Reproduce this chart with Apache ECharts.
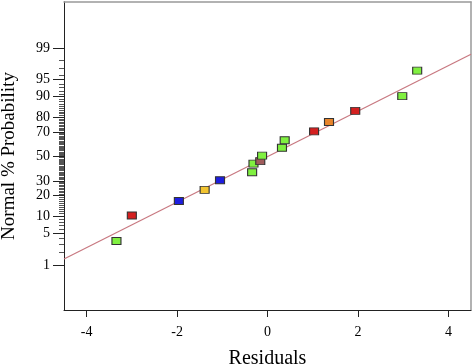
<!DOCTYPE html>
<html><head><meta charset="utf-8">
<script src="https://cdn.jsdelivr.net/npm/echarts@6/dist/echarts.min.js"></script>
<style>html,body{margin:0;padding:0;background:#fff}#c{width:474px;height:364px}</style>
</head><body><div id="c"></div>
<script>
// ---- data ----
const residuals     = [-3.34, -3.00, -1.96, -1.39, -1.05, -0.34, -0.31, -0.16, -0.12, 0.32, 0.38, 1.03, 1.36, 1.94, 2.98, 3.31];
const probabilities = [3.5, 10.3, 17.0, 23.7, 30.5, 36.8, 43.9, 46.0, 50.7, 57.4, 63.6, 70.5, 77.0, 83.6, 90.2, 96.7];
const pointGroups   = ['green','red','blue','yellow','blue','green','green','brown','green','green','green','red','orange','red','green','green'];
const fitLineX = [-4.5, 4.5];
const fitLineP = [1.4, 98.57];
const xTickLabels = [-4, -2, 0, 2, 4];
const yTickLabels = [1, 5, 10, 20, 30, 50, 70, 80, 90, 95, 99];
const yMinorTickPercents = [];
for (let p = 2; p <= 98; p++) if (yTickLabels.indexOf(p) < 0) yMinorTickPercents.push(p);

// ---- styles ----
const palette = {green:'#80f040', red:'#d42020', blue:'#1e1ee0', yellow:'#f2c430', orange:'#e8842a', brown:'#a05c5c'};
const serif = 'Liberation Serif, Times New Roman, serif';

// inverse normal CDF (Acklam)
function probit(p){
  const a=[-3.969683028665376e+01,2.209460984245205e+02,-2.759285104469687e+02,1.383577518672690e+02,-3.066479806614716e+01,2.506628277459239e+00];
  const b=[-5.447609879822406e+01,1.615858368580409e+02,-1.556989798598866e+02,6.680131188771972e+01,-1.328068155288572e+01];
  const c=[-7.784894002430293e-03,-3.223964580411365e-01,-2.400758277161838e+00,-2.549732539343734e+00,4.374664141464968e+00,2.938163982698783e+00];
  const d=[7.784695709041462e-03,3.224671290700398e-01,2.445134137142996e+00,3.754408661907416e+00];
  const pl=0.02425, ph=1-pl; let q,r;
  if(p<pl){q=Math.sqrt(-2*Math.log(p));return (((((c[0]*q+c[1])*q+c[2])*q+c[3])*q+c[4])*q+c[5])/((((d[0]*q+d[1])*q+d[2])*q+d[3])*q+1);}
  if(p<=ph){q=p-0.5;r=q*q;return (((((a[0]*r+a[1])*r+a[2])*r+a[3])*r+a[4])*r+a[5])*q/(((((b[0]*r+b[1])*r+b[2])*r+b[3])*r+b[4])*r+1);}
  q=Math.sqrt(-2*Math.log(1-p));return -(((((c[0]*q+c[1])*q+c[2])*q+c[3])*q+c[4])*q+c[5])/((((d[0]*q+d[1])*q+d[2])*q+d[3])*q+1);
}
const zOf = pct => probit(pct/100);
const majorZ = yTickLabels.map(zOf);
const minorZ = yMinorTickPercents.map(zOf);
function labelFor(v){
  let best = yTickLabels[0], bd = 1e9;
  yTickLabels.forEach((p,i)=>{const dd=Math.abs(majorZ[i]-v); if(dd<bd){bd=dd;best=p;}});
  return String(best);
}

const yMin = -3.29, yMax = 3.31;
const chart = echarts.init(document.getElementById('c'), null, {renderer:'canvas'});
chart.setOption({
  animation:false,
  backgroundColor:'#fff',
  grid:{left:64, right:3, top:2, bottom:54, containLabel:false, outerBoundsMode:'none'},
  xAxis:[{
    type:'value', min:-4.5, max:4.5, position:'bottom',
    axisLine:{show:true, onZero:false, lineStyle:{color:'#222', width:1}},
    axisTick:{show:true, customValues:xTickLabels, length:7, lineStyle:{color:'#222'}},
    axisLabel:{customValues:xTickLabels, margin:15, color:'#000', fontFamily:serif, fontSize:14},
    splitLine:{show:false},
    name:'Residuals', nameLocation:'middle', nameGap:39,
    nameTextStyle:{color:'#000', fontFamily:serif, fontSize:20}
  },{
    type:'value', min:-4.5, max:4.5, position:'top',
    axisLine:{show:true, onZero:false, lineStyle:{color:'#999', width:1.5}},
    axisTick:{show:false}, axisLabel:{show:false}, splitLine:{show:false}
  }],
  yAxis:[{
    type:'value', min:yMin, max:yMax, position:'left',
    axisLine:{show:true, onZero:false, lineStyle:{color:'#222', width:1}},
    axisTick:{show:true, customValues:majorZ, length:11, lineStyle:{color:'#222'}},
    axisLabel:{customValues:majorZ, formatter:labelFor, margin:14, color:'#000', fontFamily:serif, fontSize:14},
    splitLine:{show:false},
    name:'Normal % Probability', nameLocation:'middle', nameGap:45,
    nameTextStyle:{color:'#000', fontFamily:serif, fontSize:19}
  },{
    type:'value', min:yMin, max:yMax, position:'left', offset:0,
    axisLine:{show:true, onZero:false, lineStyle:{color:'#222', width:1}},
    axisTick:{show:true, customValues:minorZ, length:5, lineStyle:{color:'#555'}},
    axisLabel:{show:false, customValues:minorZ}, splitLine:{show:false}
  },{
    type:'value', min:yMin, max:yMax, position:'right', offset:0,
    axisLine:{show:true, onZero:false, lineStyle:{color:'#999', width:1.5}},
    axisTick:{show:false}, axisLabel:{show:false}, splitLine:{show:false}
  }],
  series:[{
    type:'line', xAxisIndex:0, yAxisIndex:0, z:1,
    data:fitLineX.map((x,i)=>[x, zOf(fitLineP[i])]),
    symbol:'none', lineStyle:{color:'#c87880', width:1.2}, silent:true
  },{
    type:'scatter', xAxisIndex:0, yAxisIndex:0, z:3,
    symbol:'rect', symbolSize:[9,7],
    data:residuals.map((x,i)=>({value:[x, zOf(probabilities[i])],
      itemStyle:{color:palette[pointGroups[i]], borderColor:'#333', borderWidth:1, opacity:1}}))
  }]
});
</script></body></html>
